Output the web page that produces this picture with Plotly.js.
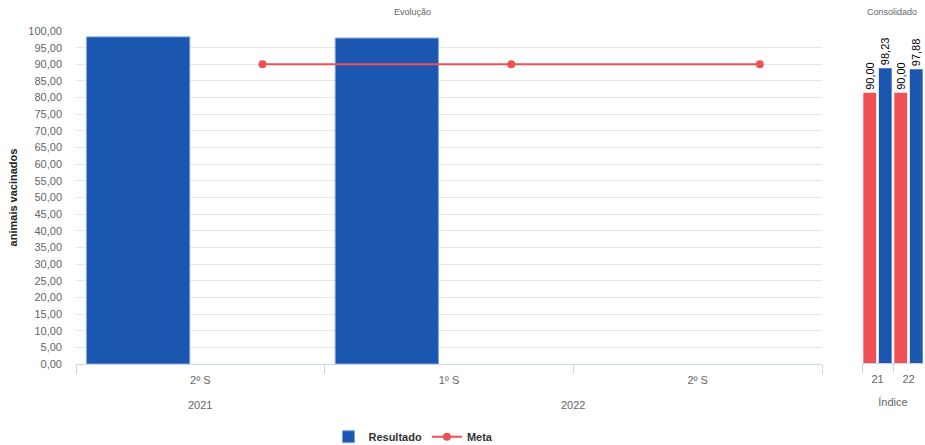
<!DOCTYPE html>
<html><head><meta charset="utf-8">
<script src="https://cdn.plot.ly/plotly-3.0.1.min.js"></script>
<style>html,body{margin:0;padding:0;background:#fff}#chart{width:925px;height:445px}</style>
</head><body><div id="chart"></div>
<script>
// Evolução (left panel)
const years = ["2021", "2022", "2022"];
const semesters = ["2º S", "1º S", "2º S"];
const resultado = [98.23, 97.88, null];
const meta = [90, 90, 90];
// Consolidado (right panel)
const consCategories = ["21", "22"];
const consMeta = [90, 90];
const consResultado = [98.23, 97.88];

const BLUE = '#1b56b0';
const RED = '#ef5053';
const FONT = 'Liberation Sans, Arial, sans-serif';

const fmt = v => v.toFixed(2).replace('.', ',');

// unique category keys built from the two label levels
const keys = years.map((y, i) => y + ' ' + semesters[i]);

// year group labels centred on their categories
const yearGroups = [];
years.forEach((y, i) => {
  let g = yearGroups.find(o => o.year === y);
  if (!g) { g = {year: y, idx: []}; yearGroups.push(g); }
  g.idx.push(i);
});

const traces = [
  {
    type: 'bar', name: 'Resultado', x: keys, y: resultado,
    offsetgroup: 'res', marker: {color: BLUE, line: {color: '#7ea3dc', width: 1}}
  },
  {
    type: 'scatter', mode: 'lines+markers', name: 'Meta', x: keys, y: meta,
    offsetgroup: 'meta', line: {color: RED, width: 2}, marker: {color: RED, size: 8}
  },
  {
    type: 'bar', name: 'Meta', x: consCategories, y: consMeta, xaxis: 'x2', yaxis: 'y2',
    offsetgroup: 'cm', marker: {color: RED}, showlegend: false,
    text: consMeta.map(fmt), texttemplate: '%{text}', textposition: 'outside', textangle: -90, constraintext: 'none',
    textfont: {family: FONT, size: 11, color: '#000'}, cliponaxis: false
  },
  {
    type: 'bar', name: 'Resultado', x: consCategories, y: consResultado, xaxis: 'x2', yaxis: 'y2',
    offsetgroup: 'cr', marker: {color: BLUE}, showlegend: false,
    text: consResultado.map(fmt), texttemplate: '%{text}', textposition: 'outside', textangle: -90, constraintext: 'none',
    textfont: {family: FONT, size: 11, color: '#000'}, cliponaxis: false
  }
];

const annotations = [
  {text: 'Evolução', xref: 'paper', yref: 'paper', x: 412/925, y: (445-12)/445,
   showarrow: false, font: {size: 9, color: '#666'}, xanchor: 'center', yanchor: 'middle'},
  {text: 'Consolidado', xref: 'paper', yref: 'paper', x: 892/925, y: (445-12)/445,
   showarrow: false, font: {size: 9, color: '#666'}, xanchor: 'center', yanchor: 'middle'}
];
yearGroups.forEach(g => {
  const c = (g.idx[0] + g.idx[g.idx.length - 1]) / 2;
  annotations.push({text: g.year, xref: 'x', yref: 'paper', x: c, y: (445-405)/445,
    showarrow: false, font: {size: 11, color: '#666'}, xanchor: 'center', yanchor: 'middle'});
});

const layout = {
  width: 925, height: 445,
  margin: {l: 0, r: 0, t: 0, b: 0, autoexpand: false},
  paper_bgcolor: '#fff', plot_bgcolor: '#fff',
  font: {family: FONT, size: 11, color: '#666'},
  separators: ',.',
  barmode: 'group', scattermode: 'group',
  bargap: 0, bargroupgap: 0.17,
  showlegend: true,
  legend: {orientation: 'h', x: 0.447, xanchor: 'center', y: -0.014, yanchor: 'bottom',
           font: {family: FONT, size: 11, color: '#333', weight: 'bold'}},
  xaxis: {
    domain: [76/925, 822/925], type: 'category', automargin: false,
    tickvals: keys, ticktext: semesters,
    showline: true, linecolor: '#ccd6eb', linewidth: 1,
    ticks: 'outside', tickson: 'boundaries', ticklen: 9, tickcolor: '#ccd6eb',
    ticklabelstandoff: 6,
    showgrid: false, zeroline: false,
    tickfont: {size: 11, color: '#666'}
  },
  yaxis: {
    domain: [(445-364)/445, (445-31)/445], range: [0, 100], dtick: 5, tickformat: '.2f',
    automargin: false,
    showgrid: true, gridcolor: '#e6e6e6', zeroline: false, showline: false,
    ticklabelstandoff: 13,
    tickfont: {size: 11, color: '#666'},
    title: {text: 'animais vacinados', font: {size: 11, color: '#222', family: FONT, weight: 'bold'}, standoff: 8}
  },
  xaxis2: {
    domain: [862/925, 924/925], anchor: 'y2', type: 'category', automargin: false,
    showline: true, linecolor: '#ccd6eb', ticks: 'outside', tickson: 'boundaries',
    ticklen: 9, tickcolor: '#ccd6eb', showgrid: false, ticklabelstandoff: 6,
    tickfont: {size: 11, color: '#666'},
    title: {text: 'Índice', font: {size: 11, color: '#666'}, standoff: 14}
  },
  yaxis2: {
    domain: [(445-363)/445, (445-31)/445], anchor: 'x2', range: [0, 110.6],
    showgrid: false, showticklabels: false, zeroline: false, showline: false
  },
  annotations: annotations
};

Plotly.newPlot('chart', traces, layout, {displayModeBar: false, staticPlot: true});
</script>
</body></html>
